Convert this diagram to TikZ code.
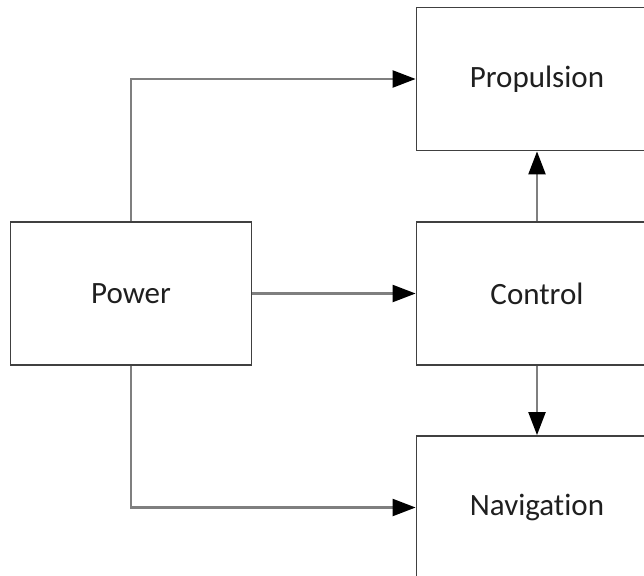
\documentclass[tikz,border=0pt]{standalone}
\usepackage{fontspec}
\setmainfont[Ligatures=NoCommon]{Carlito}
\usetikzlibrary{arrows.meta, positioning}
\definecolor{boxborder}{HTML}{404040}
\definecolor{linegray}{HTML}{7F7F7F}
\definecolor{labeltext}{HTML}{1F1F1F}

\begin{document}
\begin{tikzpicture}[x=1pt, y=-1pt,
    blockbox/.style={rectangle, draw=boxborder, line width=1.8pt, fill=white, minimum width=241pt, minimum height=143pt, align=center, text=labeltext},
    link/.style={draw=linegray, line width=2.2pt, -{Triangle[length=23pt, width=17pt, color=black]}},
    every node/.style={font=\fontsize{31}{37}\selectfont}
]

% Frame
\useasboundingbox (0,0) rectangle (644,575);
\clip (0,0) rectangle (644,575);

% Blocks
\node[blockbox] (power) at (131, 293.5) {Power};
\node[blockbox] (propulsion) at (537, 79) {Propulsion};
\node[blockbox] (control) at (537, 293.5) {Control};
\node[blockbox] (navigation) at (537, 507.5) {Navigation};

% Connectors from power
\draw[link] (power.north) |- (propulsion.west);
\draw[link] (power.east) -- (control.west);
\draw[link] (power.south) |- (navigation.west);

% Connectors from control
\draw[link] (control.north) -- (propulsion.south);
\draw[link] (control.south) -- (navigation.north);

\end{tikzpicture}
\end{document}
